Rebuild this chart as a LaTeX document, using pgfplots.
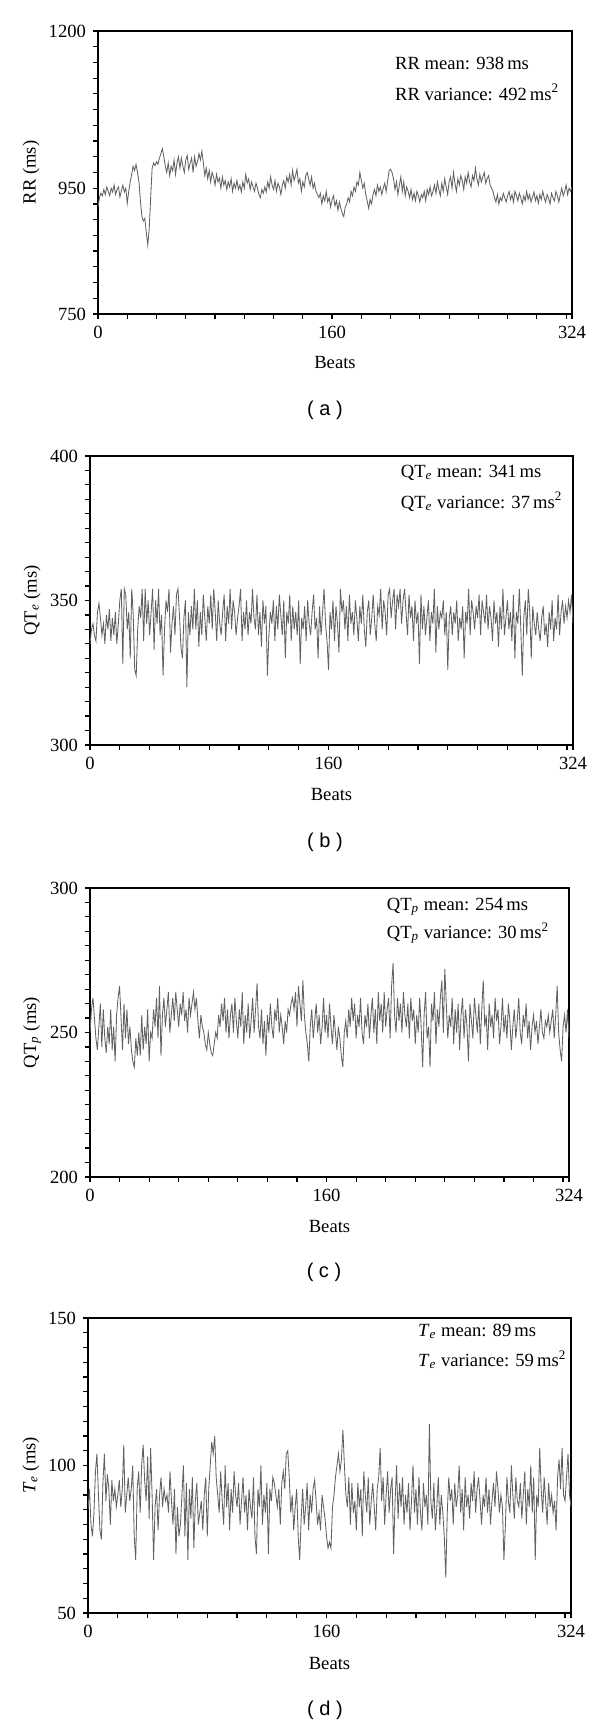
\documentclass[border=0pt]{standalone}
\usepackage{fontspec}
\setmainfont{Liberation Serif}
\newfontfamily\capfont{Liberation Sans}
\usepackage{pgfplots}
\pgfplotsset{compat=1.18}
\pgfplotsset{
  panel/.style={
    scale only axis,
    xmin=0, xmax=324,
    axis line style={line width=0.7pt},
    tick align=outside,
    xtick pos=left, ytick pos=left,
    major tick length=2.5pt, minor tick length=2.5pt,
    every tick/.style={black, line width=0.6pt},
    xtick={0,160,324}, xticklabels={0,160,324},
    minor xtick={20,40,...,320},
    tick label style={font=\rmfamily\fontsize{9.3}{11}\selectfont},
    label style={font=\rmfamily\fontsize{9.3}{11}\selectfont},
    xlabel={Beats},
    xlabel style={at={(axis description cs:0.5,-0.17)}, anchor=center},
  },
  trace/.style={line width=0.42pt, color=black!62, mark=none},
}
\newcommand{\ann}{\rmfamily\fontsize{9.3}{11}\selectfont}
\begin{document}
\begin{tikzpicture}
\path[use as bounding box] (0,0) rectangle (300pt,863pt);
% ---------------- (a)
\begin{axis}[panel, at={(49pt,706pt)}, anchor=south west, width=237pt, height=141.5pt,
  ymin=750, ymax=1200, ytick={750,950,1200}, yticklabels={750,950,1200},
  minor ytick={775,800,...,1175},
  ylabel={RR (ms)}, ylabel style={at={(axis description cs:-0.141,0.5)}, anchor=center}]
\addplot[trace] table[x expr=\coordindex, y index=0, row sep=\\, header=false] {
920\\935\\942\\938\\948\\940\\952\\945\\938\\950\\
944\\955\\940\\948\\952\\936\\946\\955\\944\\950\\
926\\945\\960\\972\\985\\978\\988\\975\\960\\930\\
905\\898\\902\\880\\860\\885\\935\\982\\990\\986\\
992\\988\\998\\1005\\1013\\1000\\985\\975\\990\\970\\
985\\978\\995\\972\\990\\1000\\982\\998\\985\\975\\
995\\1002\\980\\990\\998\\975\\1000\\985\\992\\1005\\
995\\1009\\990\\970\\982\\965\\978\\960\\975\\968\\
955\\972\\960\\966\\950\\968\\955\\962\\948\\960\\
952\\965\\945\\958\\950\\962\\948\\955\\944\\960\\
950\\972\\958\\965\\948\\960\\952\\945\\958\\950\\
940\\935\\948\\942\\952\\944\\960\\950\\968\\955\\
948\\962\\945\\958\\952\\940\\955\\962\\950\\968\\
960\\972\\955\\978\\962\\970\\980\\958\\965\\945\\
960\\952\\970\\975\\965\\955\\968\\950\\958\\945\\
940\\935\\942\\925\\938\\930\\945\\928\\935\\920\\
932\\938\\922\\930\\915\\928\\918\\910\\905\\920\\
925\\935\\928\\945\\938\\952\\945\\960\\955\\975\\
962\\950\\958\\940\\930\\918\\932\\925\\940\\948\\
938\\955\\945\\952\\940\\950\\958\\945\\962\\978\\
980\\975\\965\\948\\960\\940\\955\\968\\945\\960\\
938\\952\\945\\935\\948\\932\\942\\930\\945\\938\\
928\\940\\935\\945\\930\\948\\940\\952\\938\\945\\
955\\942\\960\\948\\938\\958\\945\\965\\952\\940\\
960\\968\\950\\975\\958\\945\\965\\955\\970\\962\\
948\\968\\958\\975\\960\\952\\970\\962\\982\\965\\
955\\972\\960\\968\\975\\958\\965\\970\\955\\950\\
945\\935\\928\\940\\925\\935\\930\\942\\935\\928\\
938\\945\\932\\940\\928\\945\\938\\930\\942\\935\\
925\\938\\930\\945\\932\\940\\928\\936\\944\\930\\
938\\926\\940\\932\\945\\935\\928\\940\\934\\925\\
942\\935\\930\\945\\938\\928\\940\\950\\938\\945\\
955\\940\\950\\945\\952\\
};
\addplot[trace] coordinates {(324,952) (324,1018) (324,860)};
\node[anchor=west, font=\ann] at (rel axis cs:0.612,0.887) {RR mean: 938\,ms};
\node[anchor=west, font=\ann] at (rel axis cs:0.612,0.784) {RR variance: 492\,ms\textsuperscript{2}};
\end{axis}
\node[font=\capfont\fontsize{10}{12}\selectfont] at (162.5pt,658pt) {( a )};
% ---------------- (b)
\begin{axis}[panel, at={(45pt,490.5pt)}, anchor=south west, width=241.5pt, height=144.5pt,
  ymin=300, ymax=400, ytick={300,350,400}, yticklabels={300,350,400},
  minor ytick={305,310,...,395},
  ylabel={QT\textsubscript{\textit{e}} (ms)}, ylabel style={at={(axis description cs:-0.12,0.5)}, anchor=center}]
\addplot[trace] table[x expr=\coordindex, y index=0, row sep=\\, header=false] {
335\\340\\342\\338\\336\\346\\349\\344\\338\\342\\
335\\345\\340\\347\\336\\344\\338\\346\\335\\342\\
350\\354\\328\\354\\352\\340\\346\\330\\354\\345\\
326\\324\\340\\348\\344\\354\\336\\354\\342\\350\\
338\\346\\354\\333\\350\\342\\354\\338\\345\\324\\
340\\350\\346\\354\\332\\342\\348\\338\\352\\354\\
345\\334\\330\\344\\350\\320\\346\\338\\348\\340\\
354\\340\\350\\334\\346\\338\\352\\344\\336\\348\\
342\\352\\340\\354\\346\\336\\350\\342\\338\\346\\
352\\336\\348\\342\\354\\340\\350\\346\\338\\344\\
348\\354\\336\\346\\340\\350\\338\\346\\342\\354\\
344\\340\\352\\338\\346\\334\\350\\342\\348\\324\\
338\\346\\342\\350\\336\\348\\340\\352\\345\\338\\
350\\330\\346\\342\\352\\336\\348\\340\\346\\338\\
350\\328\\344\\340\\348\\336\\350\\342\\338\\346\\
352\\340\\344\\330\\348\\338\\346\\354\\342\\336\\
326\\346\\340\\350\\336\\348\\342\\332\\354\\346\\
350\\340\\348\\336\\352\\342\\346\\338\\350\\344\\
336\\348\\342\\352\\340\\334\\346\\350\\338\\344\\
352\\342\\336\\348\\345\\354\\340\\350\\346\\338\\
352\\354\\344\\350\\354\\340\\352\\348\\354\\342\\
350\\354\\346\\338\\352\\344\\348\\336\\350\\342\\
346\\328\\352\\340\\348\\338\\344\\350\\336\\346\\
342\\354\\332\\348\\340\\346\\344\\350\\338\\346\\
326\\344\\348\\338\\346\\342\\350\\336\\344\\340\\
348\\330\\346\\342\\354\\338\\350\\346\\340\\348\\
344\\352\\338\\350\\346\\342\\352\\340\\348\\344\\
336\\350\\342\\346\\334\\348\\340\\354\\338\\344\\
350\\340\\346\\336\\352\\330\\346\\342\\354\\340\\
324\\344\\350\\338\\354\\346\\330\\348\\342\\338\\
346\\340\\336\\344\\348\\338\\342\\334\\346\\340\\
350\\336\\344\\340\\352\\338\\346\\350\\342\\348\\
344\\350\\346\\352\\342\\
};
\addplot[trace] coordinates {(324,342) (324,356) (324,320)};
\node[anchor=west, font=\ann] at (rel axis cs:0.629,0.941) {QT\textsubscript{\textit{e}} mean: 341\,ms};
\node[anchor=west, font=\ann] at (rel axis cs:0.629,0.841) {QT\textsubscript{\textit{e}} variance: 37\,ms\textsuperscript{2}};
\end{axis}
\node[font=\capfont\fontsize{10}{12}\selectfont] at (162.5pt,442pt) {( b )};
% ---------------- (c)
\begin{axis}[panel, at={(45pt,274.5pt)}, anchor=south west, width=239.5pt, height=144.5pt,
  ymin=200, ymax=300, ytick={200,250,300}, yticklabels={200,250,300},
  minor ytick={205,210,...,295},
  ylabel={QT\textsubscript{\textit{p}} (ms)}, ylabel style={at={(axis description cs:-0.121,0.5)}, anchor=center}]
\addplot[trace] table[x expr=\coordindex, y index=0, row sep=\\, header=false] {
250\\258\\262\\255\\248\\244\\252\\260\\245\\258\\
248\\243\\252\\246\\258\\244\\252\\240\\256\\262\\
266\\255\\244\\260\\248\\258\\246\\252\\244\\240\\
238\\248\\242\\250\\242\\256\\244\\252\\246\\258\\
240\\250\\248\\258\\252\\262\\248\\266\\242\\256\\
262\\252\\258\\264\\250\\256\\262\\254\\264\\258\\
252\\260\\256\\264\\254\\258\\250\\262\\256\\260\\
264\\258\\262\\254\\248\\256\\252\\250\\246\\244\\
250\\246\\243\\242\\246\\250\\248\\256\\252\\260\\
254\\262\\250\\258\\248\\256\\260\\250\\262\\254\\
248\\258\\252\\264\\246\\256\\250\\260\\248\\254\\
262\\250\\258\\267\\252\\248\\258\\246\\254\\242\\
256\\250\\260\\252\\248\\258\\254\\262\\250\\256\\
252\\246\\254\\250\\258\\256\\260\\262\\258\\264\\
252\\266\\260\\254\\268\\256\\250\\246\\240\\252\\
258\\248\\254\\260\\250\\256\\246\\252\\262\\250\\
256\\248\\260\\252\\246\\256\\250\\244\\252\\248\\
242\\238\\250\\254\\248\\258\\252\\262\\254\\260\\
248\\256\\252\\262\\250\\246\\256\\252\\260\\248\\
256\\262\\250\\258\\246\\264\\254\\260\\250\\264\\
252\\258\\262\\248\\266\\274\\256\\250\\262\\254\\
260\\250\\264\\256\\252\\260\\248\\262\\254\\258\\
246\\256\\250\\262\\252\\238\\256\\264\\248\\252\\
238\\260\\254\\264\\246\\258\\252\\262\\268\\250\\
272\\260\\248\\256\\252\\262\\246\\258\\250\\260\\
244\\256\\262\\248\\258\\252\\240\\260\\254\\248\\
262\\256\\250\\260\\246\\258\\268\\252\\256\\244\\
260\\252\\256\\248\\262\\254\\258\\246\\252\\262\\
250\\256\\248\\260\\254\\244\\252\\258\\248\\254\\
262\\250\\246\\256\\252\\260\\248\\254\\244\\252\\
256\\250\\254\\246\\252\\258\\250\\248\\254\\252\\
256\\250\\254\\258\\248\\256\\266\\250\\244\\240\\
252\\256\\250\\258\\248\\
};
\addplot[trace] coordinates {(324,248) (324,274) (324,238)};
\node[anchor=west, font=\ann] at (rel axis cs:0.605,0.934) {QT\textsubscript{\textit{p}} mean: 254\,ms};
\node[anchor=west, font=\ann] at (rel axis cs:0.605,0.844) {QT\textsubscript{\textit{p}} variance: 30\,ms\textsuperscript{2}};
\end{axis}
\node[font=\capfont\fontsize{10}{12}\selectfont] at (162pt,227pt) {( c )};
% ---------------- (d)
\begin{axis}[panel, at={(44pt,56.5pt)}, anchor=south west, width=241.5pt, height=147.5pt,
  ymin=50, ymax=150, ytick={50,100,150}, yticklabels={50,100,150},
  minor ytick={55,60,...,145},
  ylabel={\textit{T}\textsubscript{\textit{e}} (ms)}, ylabel style={at={(axis description cs:-0.118,0.5)}, anchor=center}]
\addplot[trace] table[x expr=\coordindex, y index=0, row sep=\\, header=false] {
85\\92\\80\\76\\84\\98\\104\\90\\78\\75\\
94\\104\\88\\97\\92\\80\\95\\88\\92\\86\\
90\\95\\86\\92\\107\\84\\90\\96\\88\\92\\
100\\76\\68\\92\\98\\84\\100\\107\\95\\88\\
103\\82\\106\\90\\68\\86\\92\\78\\90\\96\\
86\\92\\88\\90\\84\\98\\88\\80\\92\\70\\
86\\76\\80\\90\\100\\76\\94\\68\\92\\82\\
96\\72\\88\\94\\80\\84\\88\\78\\90\\96\\
76\\92\\100\\108\\104\\110\\96\\90\\84\\98\\
88\\80\\100\\86\\94\\78\\92\\84\\98\\90\\
86\\94\\80\\88\\96\\84\\90\\78\\92\\86\\
82\\96\\76\\70\\92\\86\\100\\80\\90\\84\\
94\\70\\92\\88\\96\\94\\90\\86\\92\\80\\
94\\98\\92\\104\\105\\96\\84\\90\\78\\86\\
92\\76\\68\\82\\92\\80\\86\\94\\78\\90\\
84\\92\\95\\88\\80\\84\\78\\90\\86\\82\\
76\\72\\74\\72\\86\\90\\96\\100\\104\\98\\
102\\112\\100\\90\\86\\96\\80\\94\\84\\88\\
78\\94\\86\\92\\76\\98\\90\\84\\96\\80\\
88\\94\\86\\78\\92\\96\\106\\88\\96\\80\\
90\\98\\84\\92\\96\\70\\88\\100\\82\\94\\
86\\96\\80\\90\\84\\94\\78\\88\\100\\84\\
92\\80\\96\\84\\78\\94\\86\\90\\80\\114\\
88\\82\\94\\78\\86\\96\\80\\90\\84\\76\\
62\\84\\96\\88\\92\\80\\94\\86\\90\\100\\
84\\92\\78\\96\\86\\90\\82\\94\\88\\98\\
84\\92\\96\\88\\80\\90\\86\\96\\84\\92\\
80\\88\\94\\86\\98\\92\\84\\90\\86\\68\\
80\\96\\88\\84\\100\\90\\82\\96\\88\\86\\
94\\82\\90\\98\\80\\92\\86\\100\\84\\96\\
68\\90\\86\\106\\92\\84\\96\\88\\80\\94\\
86\\90\\84\\88\\78\\96\\102\\92\\106\\90\\
88\\96\\104\\90\\86\\
};
\addplot[trace] coordinates {(324,86) (324,100) (324,84)};
\node[anchor=west, font=\ann] at (rel axis cs:0.669,0.953) {\textit{T}\textsubscript{\textit{e}} mean: 89\,ms};
\node[anchor=west, font=\ann] at (rel axis cs:0.669,0.858) {\textit{T}\textsubscript{\textit{e}} variance: 59\,ms\textsuperscript{2}};
\end{axis}
\node[font=\capfont\fontsize{10}{12}\selectfont] at (162.5pt,8pt) {( d )};
\end{tikzpicture}
\end{document}
